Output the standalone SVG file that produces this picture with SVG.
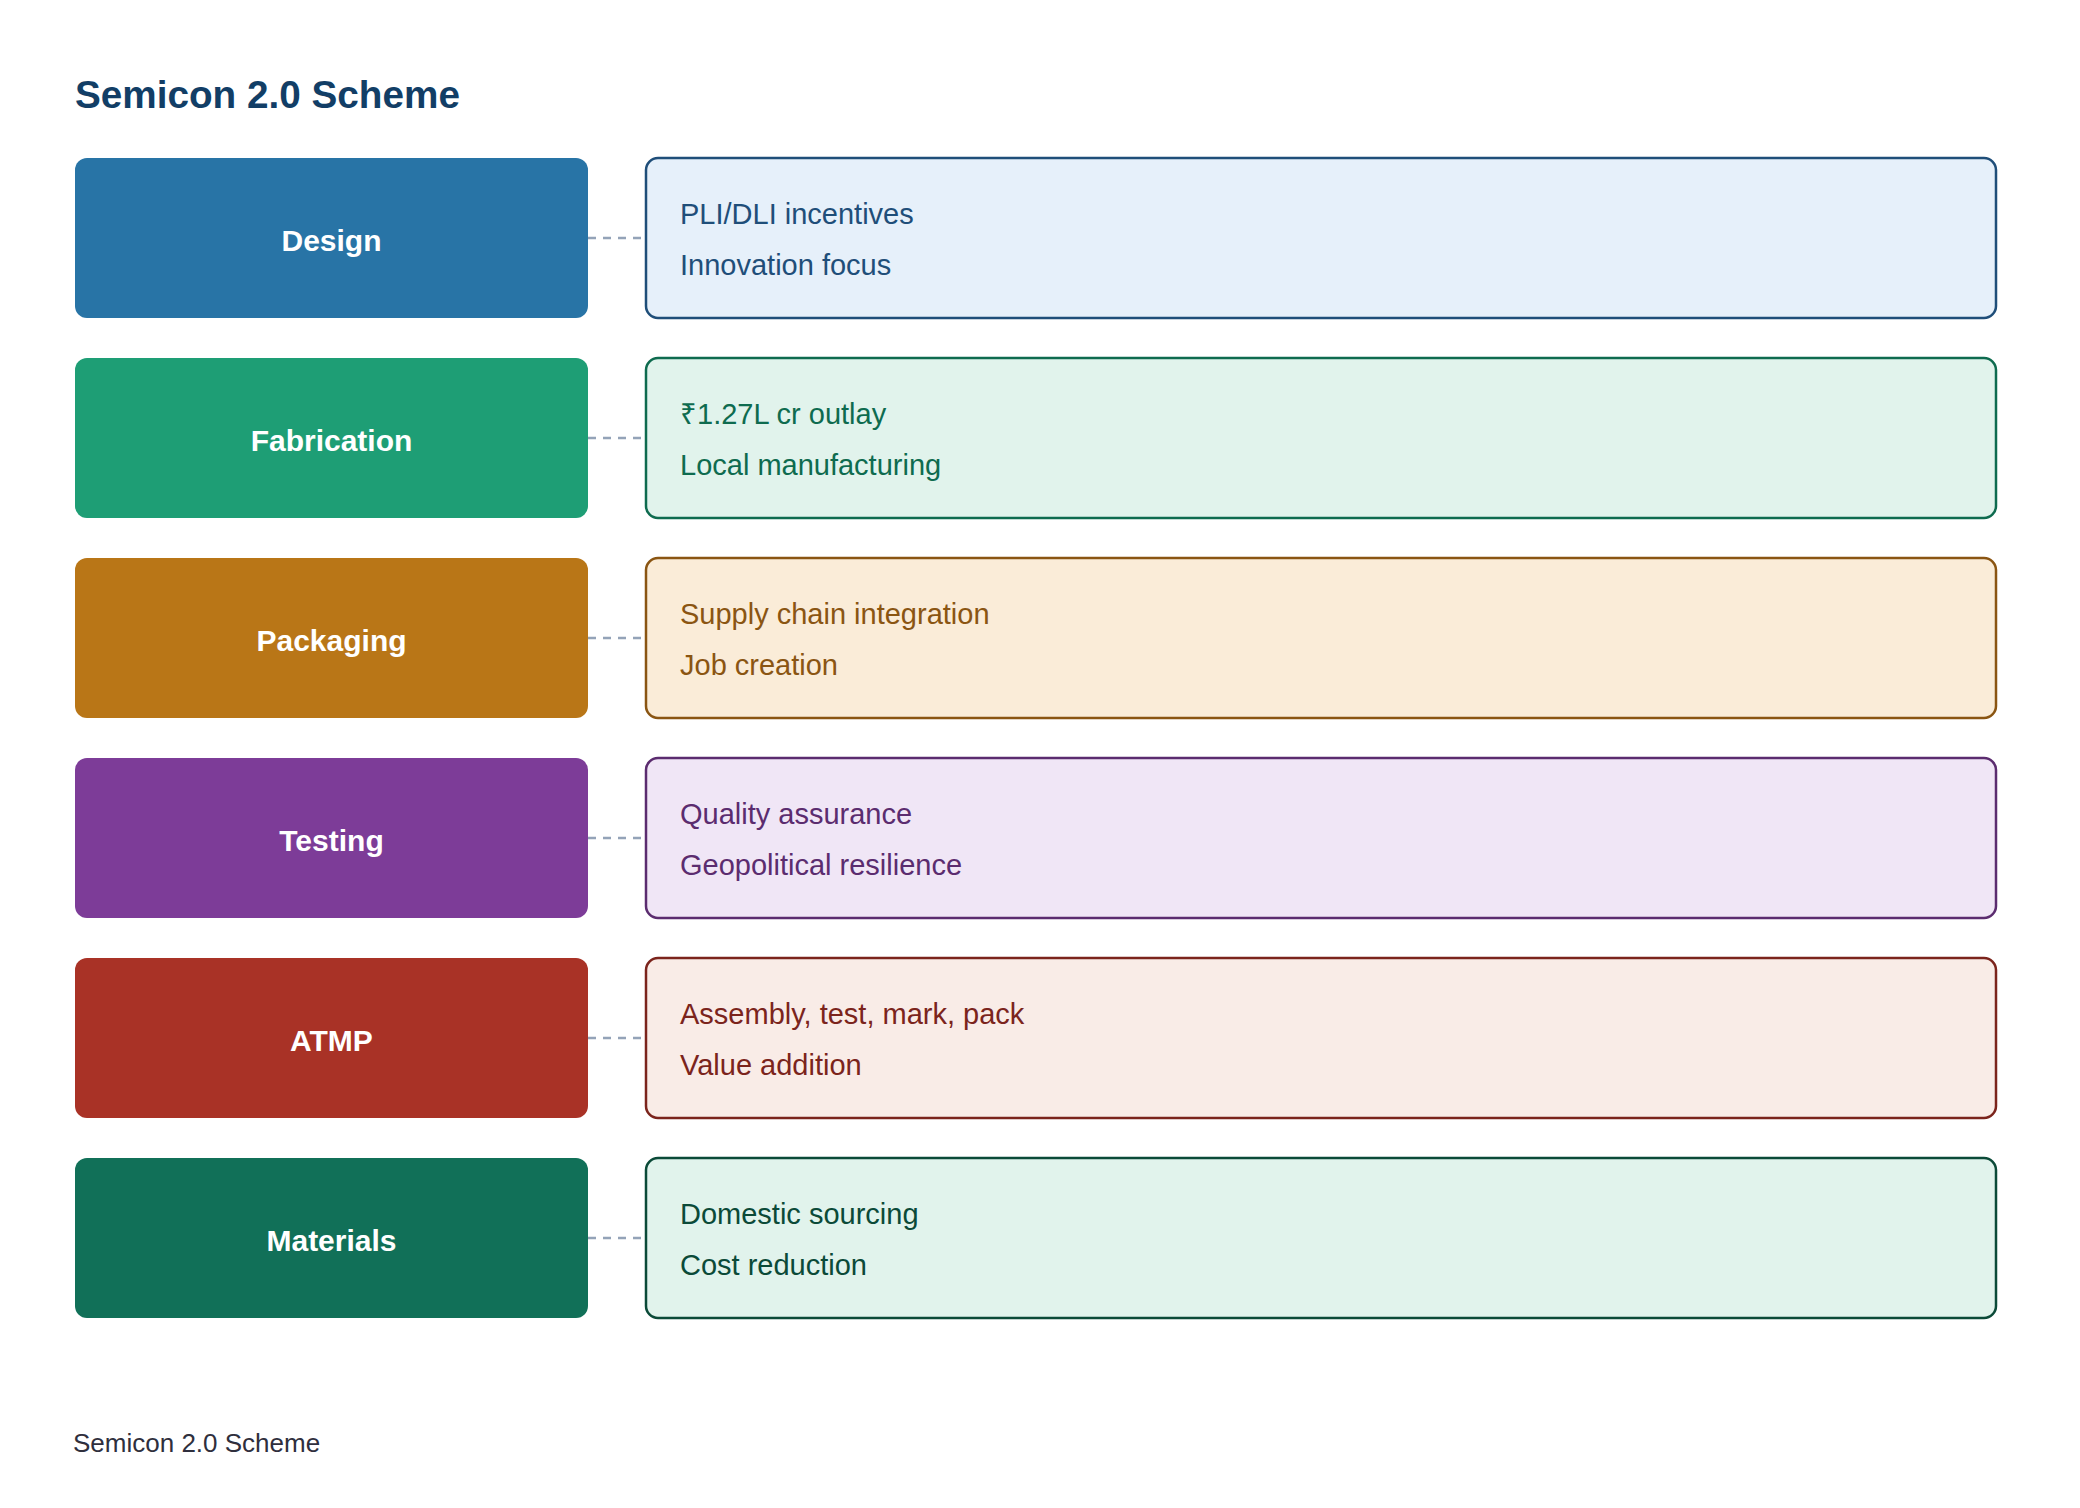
<svg xmlns="http://www.w3.org/2000/svg" width="2080" height="1508" viewBox="0 0 2080 1508">
<style>
.title{font-family:"Liberation Sans",Arial,sans-serif;font-weight:bold;font-size:38.7px;fill:#123e66}
.foot{font-family:"Liberation Sans",Arial,sans-serif;font-size:26px;fill:#2f2f3d}
.lab{font-family:"Liberation Sans",Arial,sans-serif;font-weight:bold;font-size:30px;fill:#ffffff;text-anchor:middle}
.det{font-family:"Liberation Sans",Arial,sans-serif;font-size:29px}
.conn{stroke:#94a3b8;stroke-width:2.5;stroke-dasharray:8 7;fill:none}
.det-box{stroke-width:2.5}
</style>
<rect width="2080" height="1508" fill="#ffffff"/>
<text class="title" x="75" y="108">Semicon 2.0 Scheme</text>

<g id="connectors">
<line class="conn" x1="588" y1="238" x2="644" y2="238"/>
<line class="conn" x1="588" y1="438" x2="644" y2="438"/>
<line class="conn" x1="588" y1="638" x2="644" y2="638"/>
<line class="conn" x1="588" y1="838" x2="644" y2="838"/>
<line class="conn" x1="588" y1="1038" x2="644" y2="1038"/>
<line class="conn" x1="588" y1="1238" x2="644" y2="1238"/>
</g>

<g id="design">
<rect x="75" y="158" width="513" height="160" rx="12" fill="#2874a6"/>
<text class="lab" x="331.5" y="251">Design</text>
</g>
<g id="design-details">
<rect class="det-box" x="646" y="158" width="1350" height="160" rx="12" fill="#e6f0fa" stroke="#1f4e79"/>
<text class="det" x="680" y="224" fill="#1f4e79">PLI/DLI incentives</text>
<text class="det" x="680" y="275" fill="#1f4e79">Innovation focus</text>
</g>

<g id="fabrication">
<rect x="75" y="358" width="513" height="160" rx="12" fill="#1e9e75"/>
<text class="lab" x="331.5" y="451">Fabrication</text>
</g>
<g id="fabrication-details">
<rect class="det-box" x="646" y="358" width="1350" height="160" rx="12" fill="#e1f3ec" stroke="#0e6b4f"/>
<text class="det" x="680" y="424" fill="#0e6b4f">₹1.27L cr outlay</text>
<text class="det" x="680" y="475" fill="#0e6b4f">Local manufacturing</text>
</g>

<g id="packaging">
<rect x="75" y="558" width="513" height="160" rx="12" fill="#b97617"/>
<text class="lab" x="331.5" y="651">Packaging</text>
</g>
<g id="packaging-details">
<rect class="det-box" x="646" y="558" width="1350" height="160" rx="12" fill="#faecd8" stroke="#8a5512"/>
<text class="det" x="680" y="624" fill="#8a5512">Supply chain integration</text>
<text class="det" x="680" y="675" fill="#8a5512">Job creation</text>
</g>

<g id="testing">
<rect x="75" y="758" width="513" height="160" rx="12" fill="#7d3c98"/>
<text class="lab" x="331.5" y="851">Testing</text>
</g>
<g id="testing-details">
<rect class="det-box" x="646" y="758" width="1350" height="160" rx="12" fill="#f0e6f6" stroke="#5b2c6f"/>
<text class="det" x="680" y="824" fill="#5b2c6f">Quality assurance</text>
<text class="det" x="680" y="875" fill="#5b2c6f">Geopolitical resilience</text>
</g>

<g id="atmp">
<rect x="75" y="958" width="513" height="160" rx="12" fill="#a93226"/>
<text class="lab" x="331.5" y="1051">ATMP</text>
</g>
<g id="atmp-details">
<rect class="det-box" x="646" y="958" width="1350" height="160" rx="12" fill="#f9ece7" stroke="#7b241c"/>
<text class="det" x="680" y="1024" fill="#7b241c">Assembly, test, mark, pack</text>
<text class="det" x="680" y="1075" fill="#7b241c">Value addition</text>
</g>

<g id="materials">
<rect x="75" y="1158" width="513" height="160" rx="12" fill="#117058"/>
<text class="lab" x="331.5" y="1251">Materials</text>
</g>
<g id="materials-details">
<rect class="det-box" x="646" y="1158" width="1350" height="160" rx="12" fill="#e1f3ec" stroke="#0b4a38"/>
<text class="det" x="680" y="1224" fill="#0b4a38">Domestic sourcing</text>
<text class="det" x="680" y="1275" fill="#0b4a38">Cost reduction</text>
</g>

<text class="foot" x="73" y="1452">Semicon 2.0 Scheme</text>
</svg>
